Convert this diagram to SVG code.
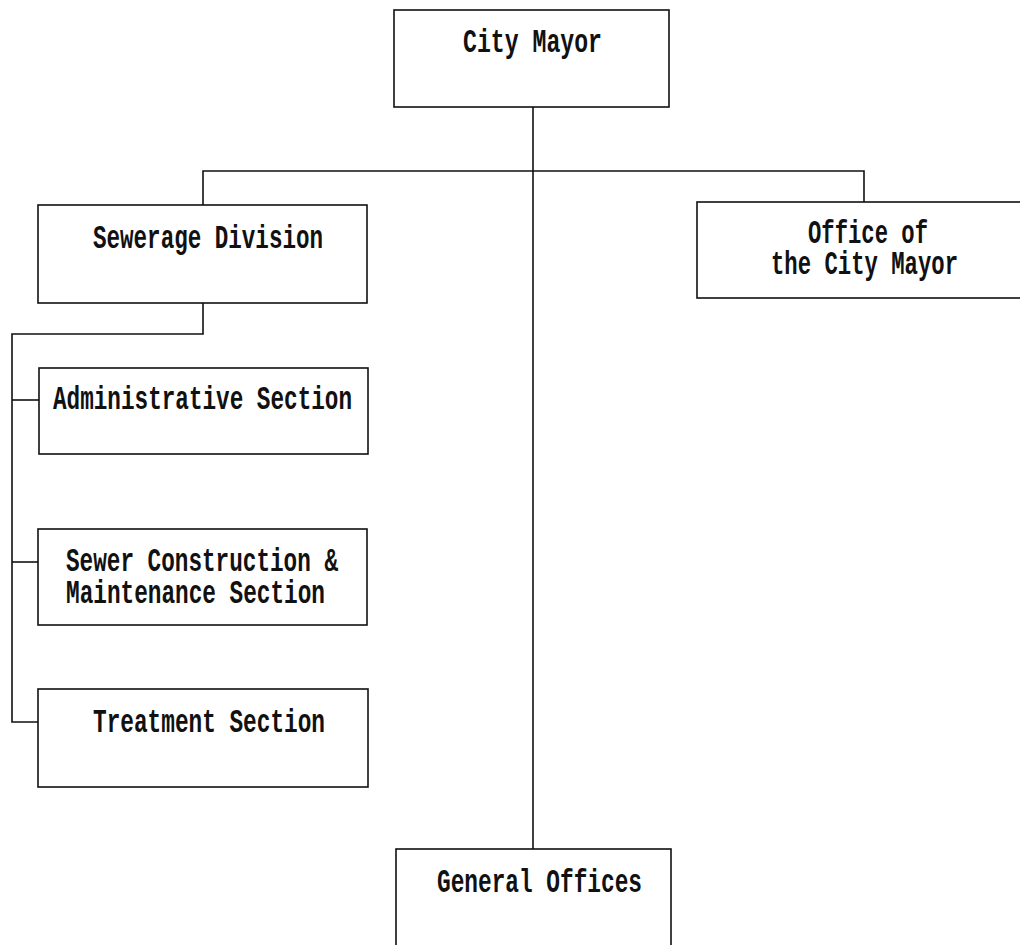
<svg xmlns="http://www.w3.org/2000/svg" width="1020" height="945" viewBox="0 0 1020 945">
<style>
.box{fill:#fff;stroke:#111;stroke-width:1.6}
.lbl{font-family:"Liberation Mono","DejaVu Sans Mono",monospace;font-size:33px;font-weight:bold;fill:#111}
.ln{fill:none;stroke:#111;stroke-width:1.6}
</style>
<rect width="1020" height="945" fill="#fff"/>
<g id="connectors">
<path class="ln" d="M533 107 V849" stroke-width="2"/>
<path class="ln" d="M203 205 V171 H864 V202"/>
<path class="ln" d="M203 303 V334 H12 V722 H38"/>
<path class="ln" d="M12 400 H39"/>
<path class="ln" d="M12 562 H38"/>
</g>
<g id="city-mayor">
<rect class="box" x="394" y="10" width="275" height="97"/>
<text class="lbl" x="463" y="52" textLength="139" lengthAdjust="spacingAndGlyphs">City Mayor</text>
</g>
<g id="sewerage-division">
<rect class="box" x="38" y="205" width="329" height="98"/>
<text class="lbl" x="93" y="248" textLength="230" lengthAdjust="spacingAndGlyphs">Sewerage Division</text>
</g>
<g id="office-city-mayor">
<rect class="box" x="697" y="202" width="340" height="96"/>
<text class="lbl" x="808" y="243" textLength="120" lengthAdjust="spacingAndGlyphs">Office of</text>
<text class="lbl" x="771" y="274" textLength="187" lengthAdjust="spacingAndGlyphs">the City Mayor</text>
</g>
<g id="administrative-section">
<rect class="box" x="39" y="368" width="329" height="86"/>
<text class="lbl" x="53" y="409" textLength="299" lengthAdjust="spacingAndGlyphs">Administrative Section</text>
</g>
<g id="sewer-construction">
<rect class="box" x="38" y="529" width="329" height="96"/>
<text class="lbl" x="66" y="571" textLength="272" lengthAdjust="spacingAndGlyphs">Sewer Construction &amp;</text>
<text class="lbl" x="66" y="603" textLength="259" lengthAdjust="spacingAndGlyphs">Maintenance Section</text>
</g>
<g id="treatment-section">
<rect class="box" x="38" y="689" width="330" height="98"/>
<text class="lbl" x="93" y="732" textLength="232" lengthAdjust="spacingAndGlyphs">Treatment Section</text>
</g>
<g id="general-offices">
<rect class="box" x="396" y="849" width="275" height="110"/>
<text class="lbl" x="437" y="892" textLength="205" lengthAdjust="spacingAndGlyphs">General Offices</text>
</g>
</svg>
